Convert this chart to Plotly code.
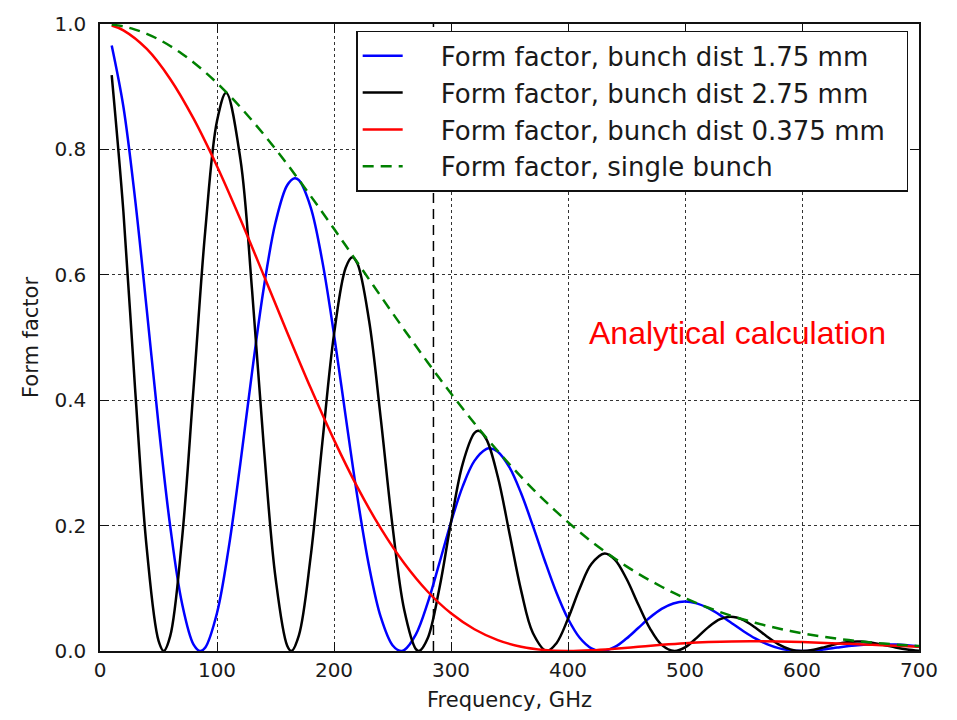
import plotly.graph_objects as go

# ---------------- data ----------------
FREQ = list(range(10, 701, 10))  # GHz sample grid for blue / black / green

BLUE_175 = [
    0.9658, 0.8681, 0.7206, 0.5436, 0.3615, 0.1989, 0.0769, 0.0103, 0.0057, 0.0607,
    0.1644, 0.2996, 0.4452, 0.5794, 0.6833, 0.7428, 0.7509, 0.7081, 0.6218, 0.5050,
    0.3739, 0.2454, 0.1349, 0.0540, 0.0092, 0.0014, 0.0265, 0.0762, 0.1397, 0.2053,
    0.2626, 0.3032, 0.3221, 0.3179, 0.2927, 0.2511, 0.1995, 0.1448, 0.0937, 0.0514,
    0.0211, 0.0043, 0.0001, 0.0064, 0.0198, 0.0366, 0.0533, 0.0671, 0.0758, 0.0788,
    0.0759, 0.0682, 0.0572, 0.0444, 0.0316, 0.0201, 0.0110, 0.0046, 0.0011, 0.0000,
    0.0008, 0.0029, 0.0054, 0.0078, 0.0096, 0.0107, 0.0108, 0.0102, 0.0090, 0.0073,
]
# minima / maxima of the blue curve
BLUE_EXTRA_FREQ = [85.7, 166.4, 257.1, 333.2, 428.6, 666.8]
BLUE_EXTRA = [0.0, 0.7541, 0.0, 0.3232, 0.0, 0.0109]

BLACK_275 = [
    0.9184, 0.7006, 0.4180, 0.1628, 0.0166, 0.0236, 0.1766, 0.4203, 0.6710, 0.8452,
    0.8866, 0.7845, 0.5747, 0.3263, 0.1172, 0.0085, 0.0250, 0.1496, 0.3316, 0.5050,
    0.6113, 0.6179, 0.5266, 0.3703, 0.1997, 0.0658, 0.0030, 0.0199, 0.0991, 0.2053,
    0.2986, 0.3476, 0.3385, 0.2779, 0.1874, 0.0959, 0.0288, 0.0007, 0.0121, 0.0514,
    0.0998, 0.1387, 0.1553, 0.1458, 0.1152, 0.0745, 0.0361, 0.0098, 0.0001, 0.0057,
    0.0209, 0.0381, 0.0507, 0.0546, 0.0494, 0.0376, 0.0233, 0.0107, 0.0026, 0.0000,
    0.0020, 0.0066, 0.0114, 0.0145, 0.0151, 0.0131, 0.0096, 0.0057, 0.0025, 0.0005,
]
BLACK_EXTRA_FREQ = [54.5, 107.8, 163.6, 215.6, 272.7, 323.4, 381.8, 431.3, 490.9, 539.1, 647.0]
BLACK_EXTRA = [0.0, 0.8902, 0.0, 0.6280, 0.0, 0.3511, 0.0, 0.1555, 0.0, 0.0546, 0.0152]

RED_FREQ = [10, 20, 40, 60, 80, 100, 120, 140, 160, 180, 200, 220, 240, 260, 280, 300,
            320, 340, 360, 380, 400, 420, 440, 460, 480, 500, 520, 540, 560, 580, 600,
            620, 640, 660, 680, 700]
RED_0375 = [0.9975, 0.9899, 0.9602, 0.9124, 0.8490, 0.7732, 0.6885, 0.5989, 0.5081, 0.4197,
            0.3367, 0.2613, 0.1955, 0.1399, 0.0949, 0.0601, 0.0347, 0.0174, 0.0068, 0.0015,
            0.0000, 0.0011, 0.0036, 0.0067, 0.0098, 0.0124, 0.0142, 0.0153, 0.0155, 0.0151,
            0.0142, 0.0129, 0.0114, 0.0098, 0.0082, 0.0067]

GREEN_SINGLE = [
    0.9990, 0.9961, 0.9911, 0.9843, 0.9756, 0.9650, 0.9527, 0.9387, 0.9230, 0.9059,
    0.8872, 0.8673, 0.8461, 0.8238, 0.8005, 0.7764, 0.7514, 0.7259, 0.6998, 0.6733,
    0.6466, 0.6196, 0.5927, 0.5658, 0.5390, 0.5125, 0.4863, 0.4606, 0.4353, 0.4107,
    0.3866, 0.3633, 0.3406, 0.3188, 0.2978, 0.2776, 0.2583, 0.2398, 0.2222, 0.2055,
    0.1897, 0.1747, 0.1607, 0.1474, 0.1350, 0.1234, 0.1126, 0.1025, 0.0931, 0.0844,
    0.0764, 0.0690, 0.0622, 0.0559, 0.0502, 0.0450, 0.0402, 0.0359, 0.0320, 0.0284,
    0.0252, 0.0223, 0.0197, 0.0174, 0.0153, 0.0135, 0.0118, 0.0103, 0.0090, 0.0079,
]

VLINE_FREQ = 285
SERIES_NAMES = [
    "Form factor, bunch dist 1.75 mm",
    "Form factor, bunch dist 2.75 mm",
    "Form factor, bunch dist 0.375 mm",
    "Form factor, single bunch",
]
X_TICKS = [0, 100, 200, 300, 400, 500, 600, 700]
X_TICK_TEXT = ["0", "100", "200", "300", "400", "500", "600", "700"]
Y_TICKS = [0, 0.2, 0.4, 0.6, 0.8, 1.0]
Y_TICK_TEXT = ["0.0", "0.2", "0.4", "0.6", "0.8", "1.0"]
ANNOT_TEXT = "Analytical calculation"


def merge(base_x, base_y, extra_x, extra_y, tol=2.5):
    pts = [(x, y) for x, y in zip(base_x, base_y)
           if all(abs(x - e) > tol for e in extra_x)]
    pts += list(zip(extra_x, extra_y))
    pts.sort()
    return [p[0] for p in pts], [p[1] for p in pts]


bx, by = merge(FREQ, BLUE_175, BLUE_EXTRA_FREQ, BLUE_EXTRA)
kx, ky = merge(FREQ, BLACK_275, BLACK_EXTRA_FREQ, BLACK_EXTRA)

FONT = "DejaVu Sans"
TXT = "#1a1a1a"
PAD = "\u00a0" * 4   # gap between legend sample and its text
TAIL = "\u00a0" * 2  # extra right padding inside the legend box


def label(name):
    return PAD + name + TAIL


fig = go.Figure()

# vertical dashed marker
fig.add_trace(go.Scatter(x=[VLINE_FREQ, VLINE_FREQ], y=[0, 1], mode="lines",
                         line=dict(color="black", width=1.5, dash="10px,6px"),
                         showlegend=False, hoverinfo="skip"))

fig.add_trace(go.Scatter(x=bx, y=by, mode="lines", name=label(SERIES_NAMES[0]),
                         line=dict(color="#0000ff", width=2.5, shape="spline")))
fig.add_trace(go.Scatter(x=kx, y=ky, mode="lines", name=label(SERIES_NAMES[1]),
                         line=dict(color="#000000", width=2.5, shape="spline")))
fig.add_trace(go.Scatter(x=RED_FREQ, y=RED_0375, mode="lines", name=label(SERIES_NAMES[2]),
                         line=dict(color="#ff0000", width=2.5, shape="spline")))
fig.add_trace(go.Scatter(x=FREQ, y=GREEN_SINGLE, mode="lines", name=label(SERIES_NAMES[3]),
                         line=dict(color="#008000", width=2.5, dash="11px,7px", shape="spline")))

fig.add_annotation(x=545, y=0.507, xref="x", yref="y", text=ANNOT_TEXT, showarrow=False,
                   font=dict(family="Liberation Sans, Arial", size=32, color="#ff0000"))

axis_common = dict(
    showline=True, linecolor="#111", linewidth=1.5, mirror="allticks",
    ticks="inside", ticklen=9, tickwidth=1.2, tickcolor="#111",
    showgrid=True, gridcolor="#333", gridwidth=1, griddash="dot",
    zeroline=False, tickfont=dict(family=FONT, size=20, color=TXT),
)

fig.update_xaxes(range=[0, 700], tickvals=X_TICKS, ticktext=X_TICK_TEXT,
                 title=dict(text="Frequency, GHz", font=dict(family=FONT, size=21, color=TXT),
                            standoff=12),
                 ticklabelstandoff=0, **axis_common)
fig.update_yaxes(range=[0, 1], tickvals=Y_TICKS, ticktext=Y_TICK_TEXT,
                 title=dict(text="Form factor", font=dict(family=FONT, size=21, color=TXT),
                            standoff=10),
                 ticklabelstandoff=8, **axis_common)

fig.update_layout(
    width=957, height=720,
    margin=dict(l=100, r=38, t=16, b=69),
    plot_bgcolor="white", paper_bgcolor="white",
    font=dict(family=FONT, color=TXT),
    showlegend=True,
    legend=dict(x=0.3128, y=0.989, xanchor="left", yanchor="top",
                bgcolor="white", bordercolor="#111", borderwidth=1.5,
                font=dict(family=FONT, size=26, color=TXT), itemwidth=40),
)

fig.write_html("out.html")
